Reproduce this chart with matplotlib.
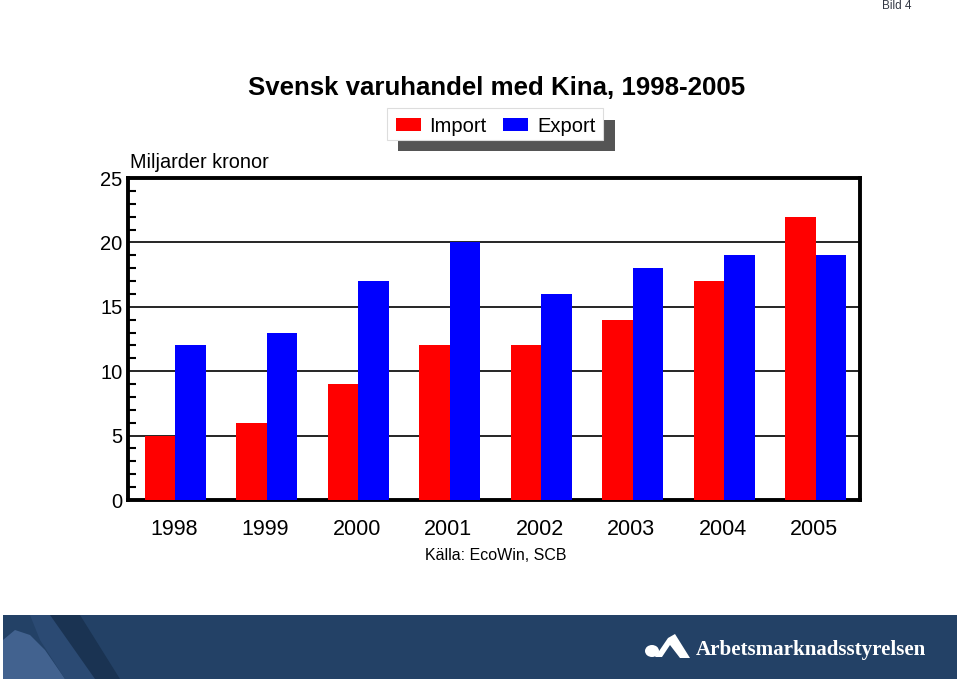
import matplotlib
matplotlib.use("Agg")
import matplotlib.pyplot as plt
import numpy as np
from matplotlib.patches import Rectangle, Polygon, Ellipse
from matplotlib.ticker import MultipleLocator

plt.rcParams['font.family'] = ['Liberation Sans', 'DejaVu Sans']

years = ["1998", "1999", "2000", "2001", "2002", "2003", "2004", "2005"]
imports = [5, 6, 9, 12, 12, 14, 17, 22]
exports = [12, 13, 17, 20, 16, 18, 19, 19]
yticks = [0, 5, 10, 15, 20, 25]

W, H = 960, 681
fig = plt.figure(figsize=(9.6, 6.81), dpi=100)
fig.patch.set_facecolor("white")

def fx(px):
    return px / W

def fy(py):
    return 1 - py / H

ax = fig.add_axes([fx(128), fy(500), fx(860) - fx(128), fy(178) - fy(500)])
x = np.arange(len(years))
bw = 1 / 3
ax.bar(x - bw / 2 + 0.015, imports, width=bw, color="#ff0000", edgecolor="none", zorder=3)
ax.bar(x + bw / 2 + 0.015, exports, width=bw, color="#0000ff", edgecolor="none", zorder=3)
ax.set_xlim(-0.5, len(years) - 0.5)
ax.set_ylim(0, 25)
ax.set_yticks(yticks)
ax.set_yticklabels([str(t) for t in yticks], fontsize=14.5)
ax.yaxis.set_minor_locator(MultipleLocator(1))
ax.tick_params(axis="y", which="major", length=0, pad=4)
ax.tick_params(axis="y", which="minor", direction="in", length=6, width=1.5, color="black")
ax.set_xticks(x)
ax.set_xticklabels(years, fontsize=15.5)
ax.tick_params(axis="x", length=0, pad=14)
for t in yticks[1:-1]:
    ax.axhline(t, color="black", lw=1.2, zorder=2)
for s in ax.spines.values():
    s.set_linewidth(2.8)
    s.set_color("black")

fig.text(fx(497), fy(88), "Svensk varuhandel med Kina, 1998-2005", ha="center", va="center",
         fontsize=18.6, fontweight="bold")
fig.text(fx(130), fy(163), "Miljarder kronor", ha="left", va="center", fontsize=14.3)
fig.text(fx(496), fy(555), "Källa: EcoWin, SCB", ha="center", va="center", fontsize=11.5)
fig.text(fx(897), fy(6), "Bild 4", ha="center", va="center", fontsize=8.5, color="#333844")

# legend with shadow
fig.patches.append(Rectangle((fx(398), fy(151)), fx(615) - fx(398), fy(120) - fy(151),
                             transform=fig.transFigure, facecolor="#555555", edgecolor="none"))
fig.patches.append(Rectangle((fx(387), fy(140)), fx(603) - fx(387), fy(108) - fy(140),
                             transform=fig.transFigure, facecolor="white", edgecolor="#dddddd", lw=0.8))
fig.patches.append(Rectangle((fx(396), fy(131)), fx(421) - fx(396), fy(118) - fy(131),
                             transform=fig.transFigure, facecolor="#ff0000", edgecolor="none"))
fig.patches.append(Rectangle((fx(503), fy(131)), fx(528) - fx(503), fy(118) - fy(131),
                             transform=fig.transFigure, facecolor="#0000ff", edgecolor="none"))
fig.text(fx(429), fy(126), "Import", ha="left", va="center", fontsize=14.5)
fig.text(fx(537), fy(126), "Export", ha="left", va="center", fontsize=14.5)

# bottom banner
bax = fig.add_axes([fx(3), fy(679), fx(957) - fx(3), fy(615) - fy(679)])
bax.set_xlim(3, 957)
bax.set_ylim(679, 615)
bax.axis("off")
bax.add_patch(Rectangle((3, 615), 954, 64, facecolor="#234166", edgecolor="none"))
bax.add_patch(Polygon([(40, 615), (80, 615), (120, 679), (75, 679)], closed=True,
                      facecolor="#1a3352", edgecolor="none"))
bax.add_patch(Polygon([(3, 640), (15, 630), (30, 635), (45, 650), (65, 679), (3, 679)], closed=True,
                      facecolor="#42628f", edgecolor="none"))
bax.add_patch(Polygon([(30, 615), (50, 615), (95, 679), (65, 679), (40, 640)], closed=True,
                      facecolor="#2b4a73", edgecolor="none"))
# logo
bax.add_patch(Polygon([(655, 657), (668, 638), (675, 634), (690, 658), (680, 658), (670, 645), (662, 657)],
                      closed=True, facecolor="white", edgecolor="none"))
bax.add_patch(Ellipse((652, 651), 14, 12, facecolor="white", edgecolor="none"))
bax.text(696, 650, "Arbetsmarknadsstyrelsen", ha="left", va="center", fontsize=15.1,
         fontweight="bold", color="white", family=["Liberation Serif", "DejaVu Serif"])

fig.savefig("out.png", dpi=100)
